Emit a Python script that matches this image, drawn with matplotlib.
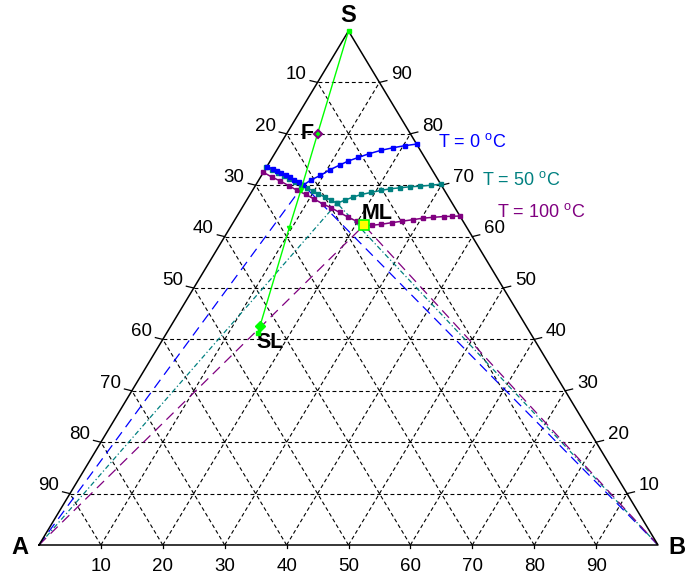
import matplotlib
matplotlib.use('Agg')
import matplotlib.pyplot as plt

plt.rcParams['font.family'] = ['Liberation Sans', 'DejaVu Sans']
plt.rcParams['mathtext.fontset'] = 'custom'
plt.rcParams['mathtext.rm'] = 'Liberation Sans'
plt.rcParams['mathtext.it'] = 'Liberation Sans:italic'

# ---- data: compositions in % (B, S); A = 100 - B - S ----
ticks = [10, 20, 30, 40, 50, 60, 70, 80, 90]

blue_left_B = [0.0, 1.2, 2.1, 3.0, 3.9, 4.8, 5.7, 6.7, 7.7]
blue_left_S = [73.6, 73.2, 72.8, 72.3, 71.9, 71.5, 71.0, 70.6, 70.0]
blue_right_B = [7.7, 8.4, 9.5, 10.5, 11.6, 12.6, 13.9, 15.2, 16.9, 18.6, 20.3, 22.0]
blue_right_S = [70.0, 71.0, 71.9, 73.0, 73.9, 74.7, 75.4, 76.1, 76.8, 77.3, 77.7, 78.0]

teal_left_B = [0.0, 1.2, 2.4, 3.6, 4.8, 6.0, 7.3, 8.5, 9.8, 11.0, 12.3, 13.6, 14.9]
teal_left_S = [73.5, 72.9, 72.4, 71.8, 71.2, 70.6, 70.0, 69.5, 68.9, 68.3, 67.7, 67.1, 66.5]
teal_right_B = [14.9, 15.9, 16.9, 18.0, 19.4, 20.8, 22.1, 23.6, 25.1, 26.6, 28.4, 29.8]
teal_right_S = [66.5, 67.1, 67.7, 68.2, 68.6, 69.0, 69.3, 69.5, 69.7, 69.8, 70.0, 70.2]

purple_left_B = [0.0, 1.8, 3.6, 5.4, 7.2, 9.0, 10.8, 12.6, 14.4, 16.2, 18.0, 19.8, 21.4]
purple_left_S = [72.5, 71.6, 70.8, 69.9, 69.0, 68.2, 67.3, 66.4, 65.6, 64.7, 63.8, 63.0, 62.2]
purple_right_B = [21.4, 22.7, 24.1, 25.6, 27.2, 28.8, 30.3, 31.8, 33.4, 34.7, 36.0]
purple_right_S = [62.2, 62.2, 62.4, 62.7, 63.0, 63.3, 63.6, 63.75, 63.9, 63.95, 64.0]

green_B = [0.0, 5.0, 7.8, 9.6, 14.4, 14.7]
green_S = [100.0, 80.0, 69.0, 61.6, 42.6, 41.2]

F_pt = (5.0, 80.0)
ML_pt = (21.3, 62.3)
SL_pt = (14.4, 42.6)

curve_labels = ['T = 0 $^{\\mathrm{o}}$C', 'T = 50 $^{\\mathrm{o}}$C', 'T = 100 $^{\\mathrm{o}}$C']
colors = ['#0000ff', '#008080', '#800080']


def tx(B, S):
    return [b + s / 2.0 for b, s in zip(B, S)]


fig = plt.figure(figsize=(6.85, 5.78), dpi=100)
ax = fig.add_axes([39 / 685, 33 / 578, 619 / 685, 514 / 578])
ax.set_xlim(0, 100)
ax.set_ylim(0, 100)
ax.axis('off')

gkw = dict(color='black', lw=0.8, dashes=(3.5, 2.5), zorder=1)
for t in ticks:
    # S constant
    ax.plot(tx([0, 100 - t], [t, t]), [t, t], **gkw)
    # B constant
    ax.plot(tx([t, t], [0, 100 - t]), [0, 100 - t], **gkw)
    # A constant
    ax.plot(tx([100 - t, 0], [0, 100 - t]), [0, 100 - t], **gkw)

# triangle
ax.plot(tx([0, 100, 0, 0], [0, 0, 100, 0]), [0, 0, 100, 0], color='black', lw=1.1, zorder=3,
        clip_on=False)

# ticks and tick labels
tfs = 13.5
for t in ticks:
    xl, yl = t / 2.0, t
    ax.plot([xl, xl - 1.2], [yl, yl + 0.35], color='black', lw=0.9, clip_on=False)
    ax.annotate(str(100 - t), (xl, yl), xytext=(-15.5, 5.5), textcoords='offset points',
                ha='center', va='center', fontsize=tfs)
    xr = 100 - t / 2.0
    ax.plot([xr, xr + 1.2], [yl, yl + 0.35], color='black', lw=0.9, clip_on=False)
    ax.annotate(str(t), (xr, yl), xytext=(16, 5.5), textcoords='offset points',
                ha='center', va='center', fontsize=tfs)
    ax.plot([t, t], [0, -0.6], color='black', lw=0.9, clip_on=False)
    ax.annotate(str(t), (t, 0), xytext=(0, -15.5), textcoords='offset points',
                ha='center', va='center', fontsize=tfs)

# tie lines from vertices to eutectic points
eut_B = [blue_left_B[-1], teal_left_B[-1], purple_left_B[-1]]
eut_S = [blue_left_S[-1], teal_left_S[-1], purple_left_S[-1]]
dash_styles = [(8, 5), (4, 2, 1, 2), (8, 5)]
for eb, es, c, d in zip(eut_B, eut_S, colors, dash_styles):
    ax.plot(tx([0, eb], [0, es]), [0, es], color=c, lw=0.9, dashes=d, zorder=2)
    ax.plot(tx([100, eb], [0, es]), [0, es], color=c, lw=0.9, dashes=d, zorder=2)

mkw = dict(marker='s', markersize=2.6, lw=1.1, zorder=4)
ax.plot(tx(purple_left_B, purple_left_S), purple_left_S, color=colors[2], **mkw)
ax.plot(tx(purple_right_B, purple_right_S), purple_right_S, color=colors[2], **mkw)
ax.plot(tx(teal_left_B, teal_left_S), teal_left_S, color=colors[1], **mkw)
ax.plot(tx(teal_right_B, teal_right_S), teal_right_S, color=colors[1], **mkw)
ax.plot(tx(blue_left_B, blue_left_S), blue_left_S, color=colors[0], **mkw)
ax.plot(tx(blue_right_B, blue_right_S), blue_right_S, color=colors[0], **mkw)

# green line
ax.plot(tx(green_B, green_S), green_S, color='#00ff00', lw=1.0, zorder=5)
ax.plot(tx(green_B[2:4], green_S[2:4]), green_S[2:4], ls='none', marker='v', ms=3,
        color='#00ff00', zorder=6)
ax.plot(tx([green_B[0], green_B[-1]], [green_S[0], green_S[-1]]), [green_S[0], green_S[-1]],
        ls='none', marker='s', ms=2.6, color='#00ff00', zorder=6, clip_on=False)

# special points
ax.plot(tx([F_pt[0]], [F_pt[1]]), [F_pt[1]], marker='D', ms=4.5, mfc='#00ff00', mec='#800080',
        mew=1.5, ls='none', zorder=7)
ax.plot(tx([ML_pt[0]], [ML_pt[1]]), [ML_pt[1]], marker='s', ms=6.5, mfc='yellow', mec='#00ff00',
        mew=1.2, ls='none', zorder=7)
ax.plot(tx([SL_pt[0]], [SL_pt[1]]), [SL_pt[1]], marker='D', ms=5, mfc='#00ff00', mec='#00ff00',
        ls='none', zorder=7)

# text labels
ax.text(50, 103.1, 'S', ha='center', va='center', fontsize=17, fontweight='bold')
ax.text(-3.1, -0.4, 'A', ha='center', va='center', fontsize=17, fontweight='bold')
ax.text(103.1, -0.4, 'B', ha='center', va='center', fontsize=17, fontweight='bold')
ax.text(43.4, 80.0, 'F', ha='center', va='center', fontsize=15.5, fontweight='bold')
ax.text(54.6, 64.5, 'ML', ha='center', va='center', fontsize=15.5, fontweight='bold')
ax.text(37.3, 39.3, 'SL', ha='center', va='center', fontsize=15.5, fontweight='bold')

label_x = [64.5, 71.6, 74.0]
label_y = [78.4, 71.0, 64.8]
for lx, ly, lab, c in zip(label_x, label_y, curve_labels, colors):
    ax.text(lx, ly, lab, color=c, ha='left', va='center', fontsize=13)

fig.savefig('out.png', dpi=100)
